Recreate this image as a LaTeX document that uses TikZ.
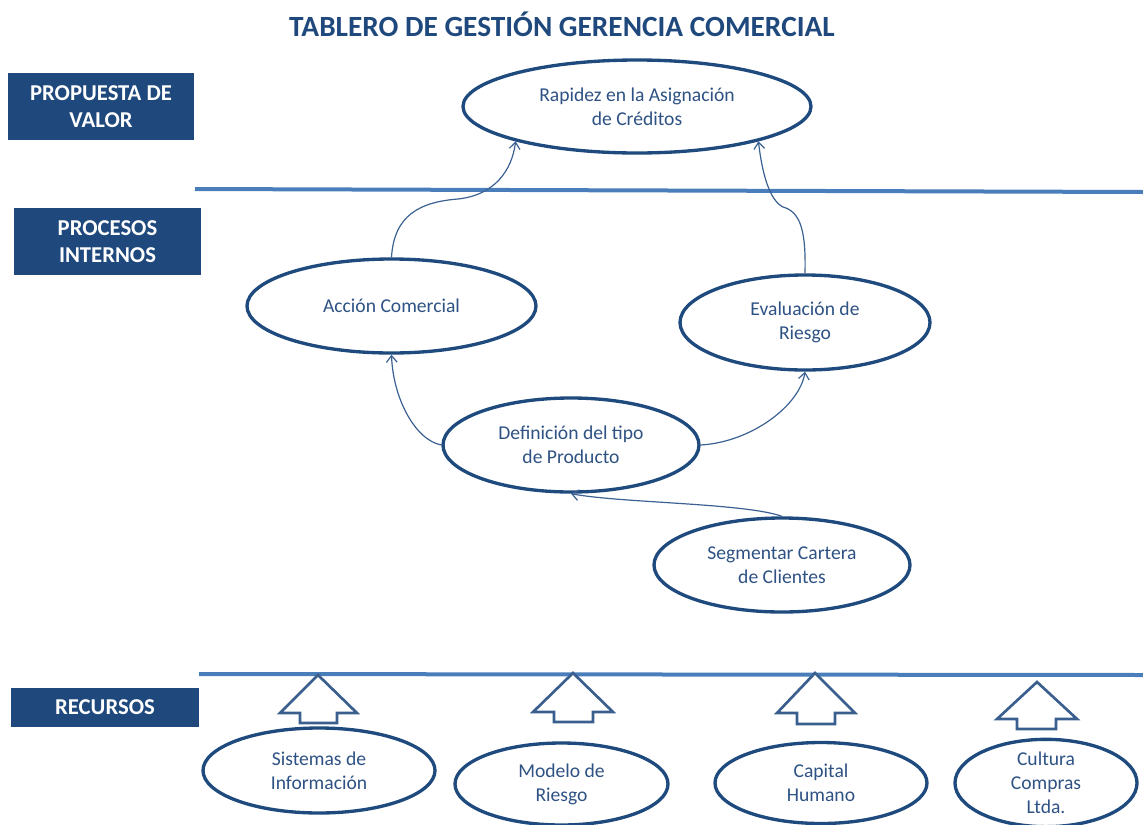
\documentclass[tikz,border=0pt]{standalone}
\usepackage{fontspec}
\setmainfont{Carlito}
\usetikzlibrary{shapes.geometric,arrows.meta}

\definecolor{navy}{HTML}{1F497D}
\definecolor{ellline}{HTML}{1F4A7E}
\definecolor{elltext}{HTML}{2E5284}
\definecolor{sepblue}{HTML}{4A7EBB}
\definecolor{arrowblue}{HTML}{3A5F8E}
\definecolor{linkblue}{HTML}{3B6192}

\tikzset{
  % oval for each goal; arguments are the half axes in pixel units
  goal/.style 2 args={ellipse, draw=ellline, line width=2.5pt, fill=white,
    minimum width={1.5pt*#1}, minimum height={1.5pt*#2}, inner sep=0pt,
    align=center, text=elltext, font=\fontsize{14.7pt}{18pt}\selectfont},
  % dark label boxes on the left
  lanebox/.style 2 args={rectangle, fill=navy, text=white, inner sep=0pt,
    minimum width={0.75pt*#1}, minimum height={0.75pt*#2}, align=center,
    font=\bfseries\fontsize{17pt}{20.5pt}\selectfont},
  sepline/.style={draw=sepblue, line width=3pt},
  link/.style={draw=linkblue, line width=0.9pt,
    -{Straight Barb[length=5pt,width=8pt,line width=0.9pt]}},
  blockarrow/.style={draw=arrowblue, line width=2pt, fill=white, line join=miter}
}

\begin{document}
\begin{tikzpicture}[x=0.75pt, y=-0.75pt]
\useasboundingbox (0,0) rectangle (1143,825);

% title
\node[text=navy, font=\bfseries\fontsize{22pt}{26pt}\selectfont] (title) at (562,24)
  {TABLERO DE GESTIÓN GERENCIA COMERCIAL};

% lane labels
\node[lanebox={186}{67}] (lvalor) at (101,106.5) {PROPUESTA DE\\VALOR};
\node[lanebox={187}{67}] (lproc) at (107.5,241.5) {PROCESOS\\INTERNOS};
\node[lanebox={188}{39}] (lrec) at (105,707.5) {RECURSOS};

% lane separators
\coordinate (s1a) at (195,189);
\coordinate (s1b) at (1143,192);
\coordinate (s2a) at (199,674);
\coordinate (s2b) at (1143,675);
\draw[sepline] (s1a) -- (s1b);
\draw[sepline] (s2a) -- (s2b);

% goals
\node[goal={174}{46.5}] (rp) at (637,106.5) {Rapidez en la Asignación\\de Créditos};
\node[goal={144.5}{47}] (ac) at (391.5,306) {Acción Comercial};
\node[goal={125}{47.5}] (ev) at (805,322.5) {Evaluación de\\Riesgo};
\node[goal={128}{47}] (df) at (571,445) {Definición del tipo\\de Producto};
\node[goal={128}{47}] (sg) at (782,565) {Segmentar Cartera\\de Clientes};

% resources
\node[goal={116}{42.5}] (si) at (319,770.5) {Sistemas de\\Información};
\node[goal={106.5}{41}] (mr) at (561.5,784) {Modelo de\\Riesgo};
\node[goal={106}{40.5}] (ch) at (821,783) {Capital\\Humano};
\node[goal={91}{40}] (cc) at (1046,783) {Cultura\\Compras\\Ltda.};

% cause-effect links
\draw[link] (ac.north) .. controls (394,215) and (420,202) .. (458,199)
  .. controls (495,195) and (512,170) .. (rp.196);
\draw[link] (ev.north) .. controls (806,232) and (801,212) .. (783,207)
  .. controls (769,200) and (762,172) .. (rp.-16);
\draw[link] (df.west) .. controls (415,440) and (393,398) .. (ac.south);
\draw[link] (df.east) .. controls (752,442) and (800,405) .. (ev.south);
\draw[link] (sg.north) .. controls (745,503) and (620,503) .. (df.south);

% block arrows from resources up to the processes
\draw[blockarrow] (318,675) -- ++(39,38) -- ++(-20,0) -- ++(0,10) -- ++(-37,0)
  -- ++(0,-10) -- ++(-20,0) -- cycle;
\draw[blockarrow] (573,673) -- ++(40,39) -- ++(-20,0) -- ++(0,10) -- ++(-39,0)
  -- ++(0,-10) -- ++(-21,0) -- cycle;
\draw[blockarrow] (815,673) -- ++(40,40) -- ++(-20,0) -- ++(0,11) -- ++(-38,0)
  -- ++(0,-11) -- ++(-20,0) -- cycle;
\draw[blockarrow] (1037,682) -- ++(40,37) -- ++(-21,0) -- ++(0,10) -- ++(-39,0)
  -- ++(0,-10) -- ++(-20,0) -- cycle;
\end{tikzpicture}
\end{document}
